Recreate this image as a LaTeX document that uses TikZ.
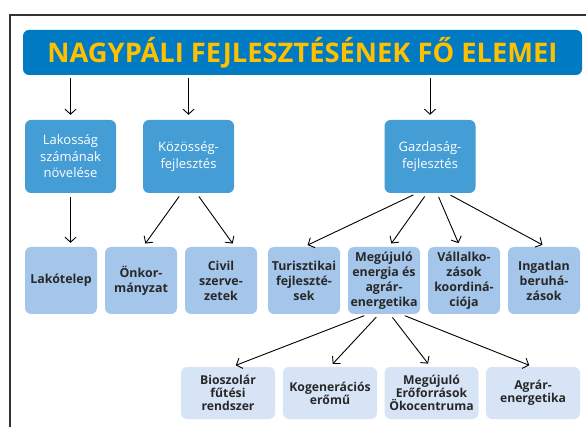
\documentclass[tikz,border=0pt]{standalone}
\usepackage{fontspec}
\setmainfont{Open Sans}
\usetikzlibrary{arrows.meta}
\definecolor{titleblue}{RGB}{0,122,194}
\definecolor{titleyellow}{RGB}{255,192,0}
\definecolor{midblue}{RGB}{69,157,214}
\definecolor{lightblue}{RGB}{165,198,235}
\definecolor{paleblue}{RGB}{214,228,246}
\definecolor{boxtext}{RGB}{40,40,40}
\tikzset{
  arr/.style={-{Straight Barb[length=5pt,width=11pt]}, line width=0.9pt, shorten <=4pt, shorten >=4pt},
  box/.style={rounded corners=6pt, inner sep=0pt, align=center},
  mainbox/.style={box, fill=midblue, text=white, minimum width=91pt, minimum height=73pt,
    font=\fontsize{13}{16.5}\selectfont},
  subbox/.style={box, fill=lightblue, text=boxtext, minimum width=72pt, minimum height=67pt,
    font=\bfseries\fontsize{12.4}{15}\selectfont},
  leafbox/.style={box, fill=paleblue, text=boxtext, minimum width=94pt, minimum height=52pt,
    font=\bfseries\fontsize{12.2}{13}\selectfont}
}
\begin{document}
\begin{tikzpicture}[x=1pt,y=-1pt]
\useasboundingbox (0,0) rectangle (586,427);
 % frame:
\draw [line width=1.2pt, black!80] (10,427) -- (10,15) -- (586,15);
 % title:
\node [box, fill=titleblue, text=titleyellow, minimum width=559pt, minimum height=45pt] (title) at (302.5,52.5)
  {\resizebox{510pt}{\height}{\fontsize{27}{27}\selectfont\bfseries NAGYPÁLI FEJLESZTÉSÉNEK FŐ ELEMEI}};
 % first row:
\node [mainbox] (lak) at (70.5,156.5) {Lakosság\\számának\\növelése};
\node [mainbox] (kozos) at (188.5,156.5) {Közösség-\\fejlesztés};
\node [mainbox] (gazd) at (430,156.5) {Gazdaság-\\fejlesztés};
 % second row:
\node [subbox] (lakt) at (61,280.5) {Lakótelep};
\node [subbox] (onkor) at (141,280.5) {Önkor-\\mányzat};
\node [subbox] (civil) at (221,280.5) {Civil\\szerve-\\zetek};
\node [subbox] (turisz) at (304,280.5) {Turisztikai\\fejleszté-\\sek};
\node [subbox] (meguj) at (384,280.5) {Megújuló\\energia és\\agrár-\\energetika};
\node [subbox] (vallal) at (464,280.5) {Vállalko-\\zások\\koordiná-\\ciója};
\node [subbox] (ingat) at (544,280.5) {Ingatlan\\beruhá-\\zások};
 % third row:
\node [leafbox] (bio) at (228,393) {Bioszolár\\fűtési\\rendszer};
\node [leafbox] (kogen) at (330,393) {Kogenerációs\\erőmű};
\node [leafbox] (okoc) at (431.5,393) {Megújuló\\Erőforrások\\Ökocentruma};
\node [leafbox] (agrar) at (533,393) {Agrár-\\energetika};
 % arrows from the title:
\draw [arr, shorten <=3pt, shorten >=5pt] (title.south -| lak.north) -- (lak.north);
\draw [arr, shorten <=3pt, shorten >=5pt] (title.south -| kozos.north) -- (kozos.north);
\draw [arr, shorten <=3pt, shorten >=5pt] (title.south -| gazd.north) -- (gazd.north);
 % arrows to the second row:
\draw [arr] (lak.south) -- (lak.south |- lakt.north);
\draw [arr] ([xshift=-7pt]kozos.south) -- ([xshift=2pt]onkor.north);
\draw [arr] ([xshift=8pt]kozos.south) -- ([xshift=14pt]civil.north);
\draw [arr] ([xshift=-13pt]gazd.south) -- (turisz.north);
\draw [arr] ([xshift=-3pt]gazd.south) -- ([xshift=5pt]meguj.north);
\draw [arr] ([xshift=7pt]gazd.south) -- ([xshift=-4pt]vallal.north);
\draw [arr] ([xshift=17pt]gazd.south) -- ([xshift=2pt]ingat.north);
 % arrows to the third row:
\draw [arr] ([xshift=-16pt]meguj.south) -- ([xshift=4pt]bio.north);
\draw [arr] ([xshift=-5pt]meguj.south) -- (kogen.north);
\draw [arr] ([xshift=6pt]meguj.south) -- ([xshift=-1pt]okoc.north);
\draw [arr] ([xshift=17pt]meguj.south) -- (agrar.north);
\end{tikzpicture}
\end{document}
